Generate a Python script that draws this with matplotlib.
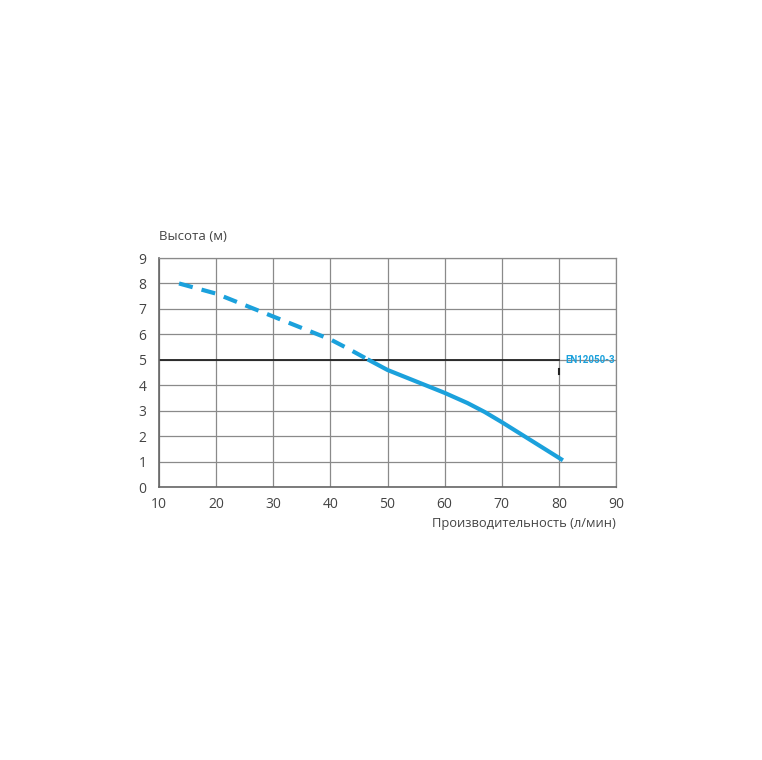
import matplotlib.pyplot as plt

# pump curve
flow_dashed = [13.5, 20, 25, 30, 35, 40, 43, 46.5]
head_dashed = [8.0, 7.6, 7.15, 6.7, 6.25, 5.8, 5.45, 5.02]
flow_solid = [46.5, 50, 55, 60, 64, 67, 70, 75, 80.7]
head_solid = [5.02, 4.6, 4.15, 3.7, 3.3, 2.95, 2.55, 1.85, 1.05]

x_ticks = [10, 20, 30, 40, 50, 60, 70, 80, 90]
y_ticks = [0, 1, 2, 3, 4, 5, 6, 7, 8, 9]
norm_head = 5
norm_flow_end = 80
norm_label = "EN12050-3"

blue = "#1ba1dc"
plt.rcParams['font.family'] = ['Open Sans', 'DejaVu Sans']

fig = plt.figure(figsize=(7.62, 7.60), dpi=100)
ax = fig.add_axes([0.2087, 0.3592, 0.5997, 0.3013])
ax.set_xlim(10, 90)
ax.set_ylim(0, 9)
ax.set_xticks(x_ticks)
ax.set_yticks(y_ticks)
ax.grid(True, color="#8a8a8a", linewidth=0.9)
ax.set_axisbelow(True)
ax.tick_params(length=0, labelsize=10, labelcolor="#444444")
ax.tick_params(axis="x", pad=7)
ax.tick_params(axis="y", pad=9)
for side in ["top", "right"]:
    ax.spines[side].set_color("#8a8a8a")
    ax.spines[side].set_linewidth(0.9)
for side in ["left", "bottom"]:
    ax.spines[side].set_color("#666666")
    ax.spines[side].set_linewidth(1.2)

# norm line
ax.plot([10, norm_flow_end], [norm_head, norm_head], color="#222222", linewidth=1.3)
ax.plot([norm_flow_end, norm_flow_end], [4.45, 4.65], color="#222222", linewidth=1.5)
ax.text(norm_flow_end + 1.2, norm_head, norm_label, color=blue, fontsize=7,
        fontweight="bold", va="center", ha="left", family=['Roboto', 'DejaVu Sans'],
        fontstretch="condensed")

ax.plot(flow_dashed, head_dashed, color=blue, linewidth=3.0, linestyle=(0, (3.4, 2.2)),
        dash_capstyle="butt", solid_joinstyle="round", dash_joinstyle="round")
ax.plot(flow_solid, head_solid, color=blue, linewidth=3.0, solid_capstyle="butt",
        solid_joinstyle="round")

fig.text(159 / 762, 1 - 237 / 760, "Высота (м)", fontsize=9.5, color="#444444",
         ha="left", va="center")
fig.text(616 / 762, 1 - 523 / 760, "Производительность (л/мин)", fontsize=9.3,
         color="#444444", ha="right", va="center")

fig.savefig("out.png", dpi=100)
